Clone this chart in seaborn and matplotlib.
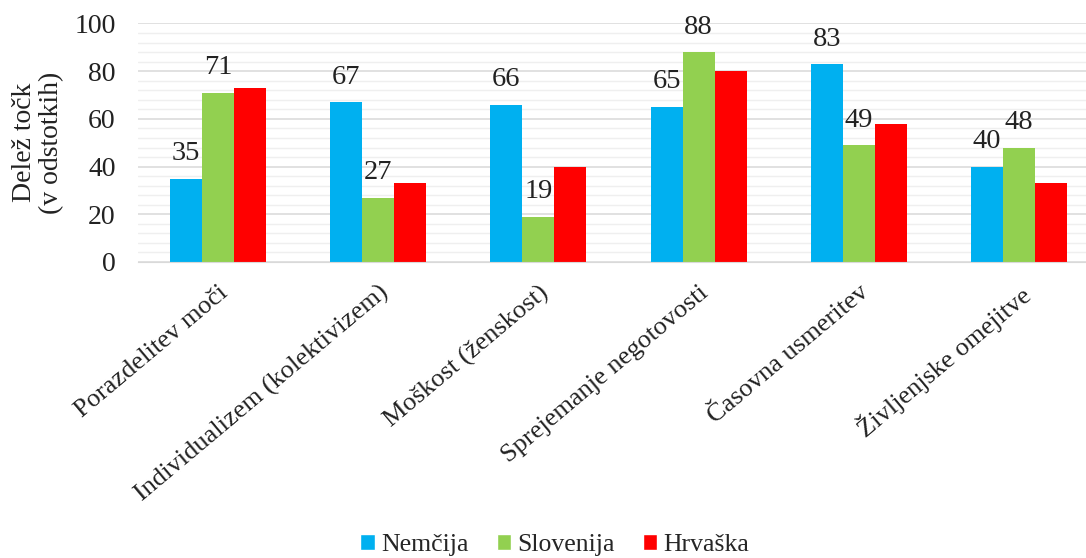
import pandas as pd
import matplotlib
matplotlib.use("Agg")
import matplotlib.pyplot as plt
import seaborn as sns
from matplotlib.ticker import MultipleLocator
from matplotlib.patches import Patch

# Data
categories = ["Porazdelitev moči", "Individualizem (kolektivizem)", "Moškost (ženskost)",
              "Sprejemanje negotovosti", "Časovna usmeritev", "Življenjske omejitve"]
series = ["Nemčija", "Slovenija", "Hrvaška"]
nemcija = [35, 67, 66, 65, 83, 40]
slovenija = [71, 27, 19, 88, 49, 48]
hrvaska = [73, 33, 40, 80, 58, 33]
colors = ["#00B0F0", "#92D050", "#FF0000"]

df = pd.DataFrame({
    "kategorija": categories * 3,
    "drzava": [s for s in series for _ in categories],
    "vrednost": nemcija + slovenija + hrvaska,
})

sns.set_style("white")
plt.rcParams["font.family"] = ["Liberation Serif", "DejaVu Serif"]

fig = plt.figure(figsize=(10.86, 5.58), dpi=100)
ax = fig.add_axes([0.127, 0.5305, 0.885, 0.4274])

sns.barplot(data=df, x="kategorija", y="vrednost", hue="drzava", order=categories,
            hue_order=series, palette=colors, width=0.6, saturation=1, ax=ax,
            legend=False, linewidth=0)

# labels only for the first two series
for cont in ax.containers[:2]:
    ax.bar_label(cont, fmt="%d", padding=9, fontsize=20.5, color="#222222")

ax.set_ylim(0, 100)
ax.yaxis.set_major_locator(MultipleLocator(20))
ax.yaxis.set_minor_locator(MultipleLocator(4))
ax.grid(axis="y", which="major", color="#D9D9D9", linewidth=1.1)
ax.grid(axis="y", which="minor", color="#EFEFEF", linewidth=1.0)
ax.set_axisbelow(True)
for s in ["top", "right", "left"]:
    ax.spines[s].set_visible(False)
ax.spines["bottom"].set_color("#D9D9D9")
ax.tick_params(axis="both", which="both", length=0, labelsize=20, colors="#222222")
ax.tick_params(axis="y", pad=16)

ax.set_xticks(range(len(categories)))
ax.set_xticklabels(categories, rotation=40, ha="right", rotation_mode="anchor", fontsize=19)
ax.tick_params(axis="x", pad=14)
ax.set_xlabel("")
ax.set_ylabel("Delež točk\n(v odstotkih)", fontsize=20, color="#222222",
              linespacing=1.15, labelpad=7)

handles = [Patch(facecolor=c, label=s) for c, s in zip(colors, series)]
fig.legend(handles=handles, loc="lower center", bbox_to_anchor=(0.511, -0.038), ncol=3,
           frameon=False, fontsize=18.5, handlelength=0.55, handleheight=0.55,
           handletextpad=0.25, columnspacing=1.1)

fig.savefig("out.png", dpi=100)
